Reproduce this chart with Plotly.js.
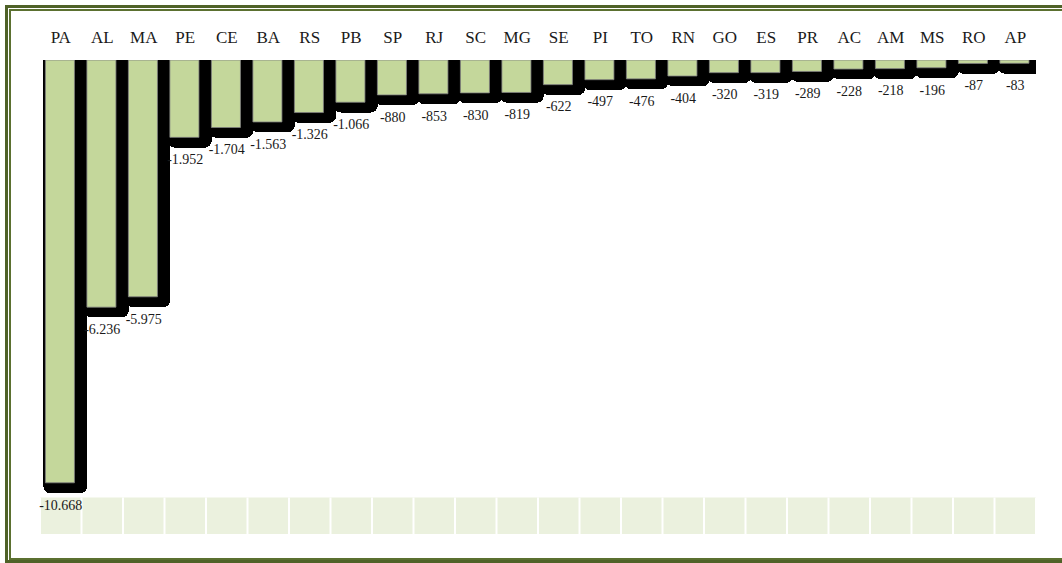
<!DOCTYPE html>
<html>
<head>
<meta charset="utf-8">
<script src="https://cdn.plot.ly/plotly-3.0.1.min.js"></script>
<style>
  html, body { margin: 0; padding: 0; background: #ffffff; overflow: hidden; }
  #wrap { position: relative; width: 1062px; height: 563px; overflow: hidden; }
  #chart { position: absolute; left: 0; top: 0; width: 1062px; height: 563px; }
  .frame { position: absolute; box-sizing: border-box; pointer-events: none; }
  #outer { left: 5px; top: 5px; width: 1100px; height: 558px; border: 3px solid #4f6228; }
  #inner { left: 9px; top: 9px; width: 1100px; height: 551px; border: 2px solid #5b7030; }
</style>
</head>
<body>
<div id="wrap">
  <div id="chart"></div>
  <div id="outer" class="frame"></div>
  <div id="inner" class="frame"></div>
</div>
<script>
// ---- data ----
const states = ['PA','AL','MA','PE','CE','BA','RS','PB','SP','RJ','SC','MG','SE','PI','TO','RN','GO','ES','PR','AC','AM','MS','RO','AP'];
const values = [-10668,-6236,-5975,-1952,-1704,-1563,-1326,-1066,-880,-853,-830,-819,-622,-497,-476,-404,-320,-319,-289,-228,-218,-196,-87,-83];

// ---- style constants ----
const yMin = -11960;           // bottom of plotting range
const shadowDepth = 260;       // shadow extends this far below each bar (data units ~10px)
const labelGap = 150;          // extra gap below shadow for value labels
const serif = '"Liberation Serif", "DejaVu Serif", serif';

function fmt(v) {
  const s = Math.abs(v).toString();
  const parts = [];
  for (let i = s.length; i > 0; i -= 3) parts.unshift(s.slice(Math.max(0, i - 3), i));
  return (v < 0 ? '-' : '') + parts.join('.');
}

const shadow = {
  type: 'bar',
  x: states,
  y: values.map(v => v - shadowDepth),
  width: 1.06,
  offset: -0.42,
  marker: { color: '#000000', cornerradius: 7, line: { width: 0 } },
  hoverinfo: 'skip',
  showlegend: false
};

const bars = {
  type: 'bar',
  x: states,
  y: values,
  width: 0.7,
  offset: -0.37,
  marker: { color: '#c4d79b', line: { color: '#808080', width: 0.8 } },
  showlegend: false
};

const labels = {
  type: 'scatter',
  mode: 'text',
  x: states,
  y: values.map(v => v - shadowDepth - labelGap),
  text: values.map(fmt),
  textposition: 'bottom center',
  textfont: { family: serif, size: 14, color: '#1a1a1a' },
  hoverinfo: 'skip',
  showlegend: false,
  cliponaxis: false
};

// floor cells (decoration)
const shapes = [{
  type: 'rect', xref: 'x', yref: 'paper',
  x0: -0.5, x1: states.length - 0.5, y0: 0, y1: 0.077,
  fillcolor: '#ebf1de', line: { width: 0 }, layer: 'below'
}];
for (let i = 0; i <= states.length; i++) {
  shapes.push({
    type: 'line', xref: 'x', yref: 'paper',
    x0: i - 0.5, x1: i - 0.5, y0: 0, y1: 0.077,
    line: { color: '#ffffff', width: 2 }, layer: 'below'
  });
}

const layout = {
  width: 1062, height: 563,
  margin: { l: 39.5, r: 25.5, t: 60, b: 29, pad: 0 },
  paper_bgcolor: '#ffffff',
  plot_bgcolor: 'rgba(0,0,0,0)',
  barmode: 'overlay',
  bargap: 0,
  xaxis: {
    type: 'category',
    side: 'top',
    range: [-0.5, states.length - 0.5],
    showgrid: false, zeroline: false, showline: false,
    ticks: '',
    ticklabelstandoff: 13,
    tickfont: { family: serif, size: 17, color: '#1a1a1a' },
    fixedrange: true
  },
  yaxis: {
    range: [yMin, 0],
    showgrid: false, zeroline: false, showline: false,
    showticklabels: false, ticks: '',
    fixedrange: true
  },
  shapes: shapes
};

Plotly.newPlot('chart', [shadow, bars, labels], layout, { displayModeBar: false, staticPlot: true });
</script>
</body>
</html>
